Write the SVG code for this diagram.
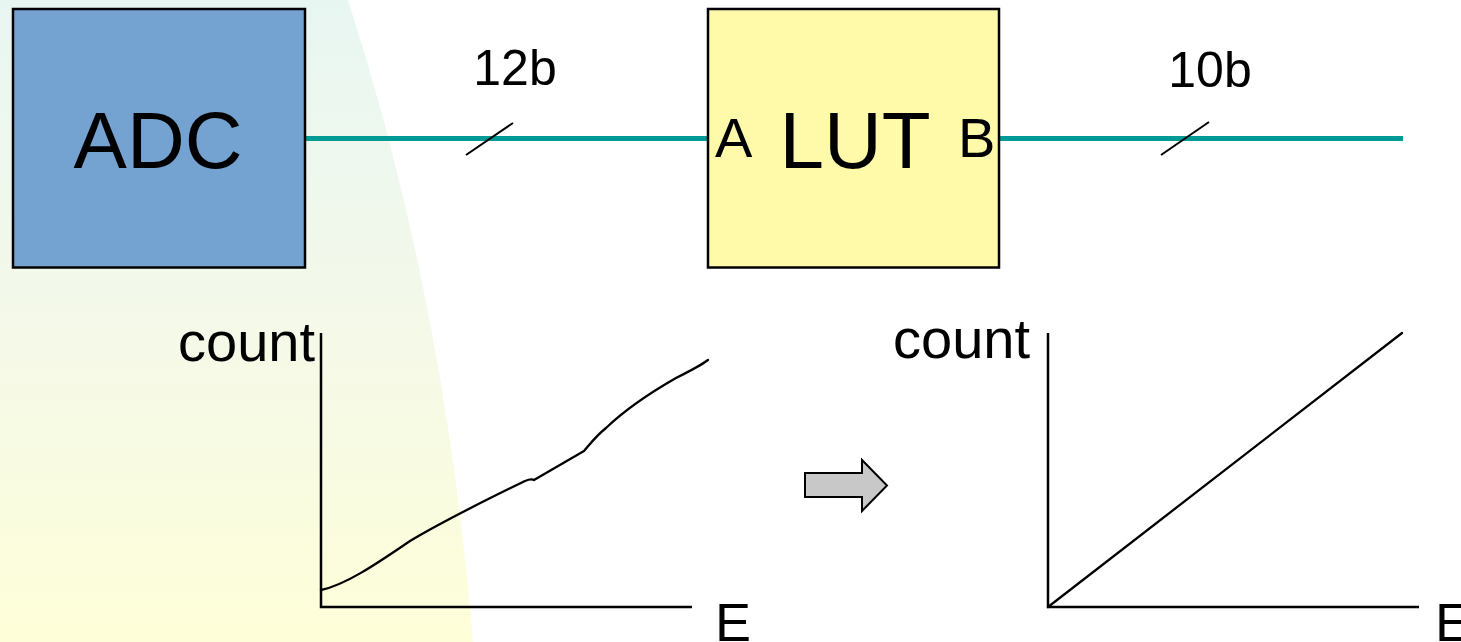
<svg xmlns="http://www.w3.org/2000/svg" width="1461" height="642" viewBox="0 0 1461 642">
  <style>
    .lbl { font-family: "Liberation Sans", Arial, sans-serif; fill: #000; }
    .box { stroke: #000; stroke-width: 2.5; }
    .bus { stroke: #009a96; stroke-width: 5; fill: none; }
    .tick { stroke: #000; stroke-width: 2; }
    .axis { stroke: #000; stroke-width: 2.5; fill: none; }
    .curve { stroke: #000; stroke-width: 2.3; fill: none; stroke-linejoin: round; stroke-linecap: round; }
  </style>
  <defs>
    <linearGradient id="bg" x1="0" y1="0" x2="0" y2="1">
      <stop offset="0" stop-color="#e8f6f2"/>
      <stop offset="0.5" stop-color="#f4f9e9"/>
      <stop offset="1" stop-color="#fefed8"/>
    </linearGradient>
  </defs>
  <rect x="0" y="0" width="1461" height="642" fill="#ffffff"/>
  <path d="M0,0 L348,0 Q445,300 473,642 L0,642 Z" fill="url(#bg)"/>

  <g id="connectors">
    <line class="bus" x1="305" y1="138.5" x2="708" y2="138.5"/>
    <line class="tick" x1="466" y1="155" x2="513" y2="123"/>
    <text class="lbl" x="515" y="85" font-size="50" text-anchor="middle">12b</text>
    <line class="bus" x1="999" y1="138.5" x2="1403" y2="138.5"/>
    <line class="tick" x1="1161" y1="155" x2="1209" y2="122"/>
    <text class="lbl" x="1210" y="87" font-size="50" text-anchor="middle">10b</text>
  </g>

  <g id="adc">
    <rect class="box" x="13" y="9" width="292" height="258.5" fill="#74a3d2"/>
    <text class="lbl" x="158" y="168" font-size="80" text-anchor="middle">ADC</text>
  </g>

  <g id="lut">
    <rect class="box" x="708" y="9" width="291" height="258.5" fill="#fffaaa"/>
    <text class="lbl" x="855" y="168" font-size="80" text-anchor="middle">LUT</text>
    <text class="lbl" x="715" y="157" font-size="56">A</text>
    <text class="lbl" x="958" y="157" font-size="56">B</text>
  </g>

  <g id="graph-before">
    <polyline class="axis" points="321,333 321,607 692,607"/>
    <text class="lbl" x="315" y="361" font-size="56" text-anchor="end">count</text>
    <text class="lbl" x="715" y="641" font-size="54">E</text>
    <path class="curve" d="M321,590 C345,585 375,565 410,541 C445,520 490,498 525,481 C530,479 532,479 534,480 L584,451 C590,444 596,436 606,428 C630,405 655,390 676,378 C690,371 700,366 708,360"/>
  </g>

  <g id="arrow">
    <path d="M805,473 L862,473 L862,460 L887,485.5 L862,511 L862,497 L805,497 Z" fill="#c8c8c8" stroke="#000" stroke-width="2"/>
  </g>

  <g id="graph-after">
    <polyline class="axis" points="1048,333 1048,607 1419,607"/>
    <text class="lbl" x="1030" y="358" font-size="56" text-anchor="end">count</text>
    <text class="lbl" x="1435" y="641" font-size="54">E</text>
    <line class="curve" x1="1048" y1="607" x2="1402" y2="333"/>
  </g>
</svg>
